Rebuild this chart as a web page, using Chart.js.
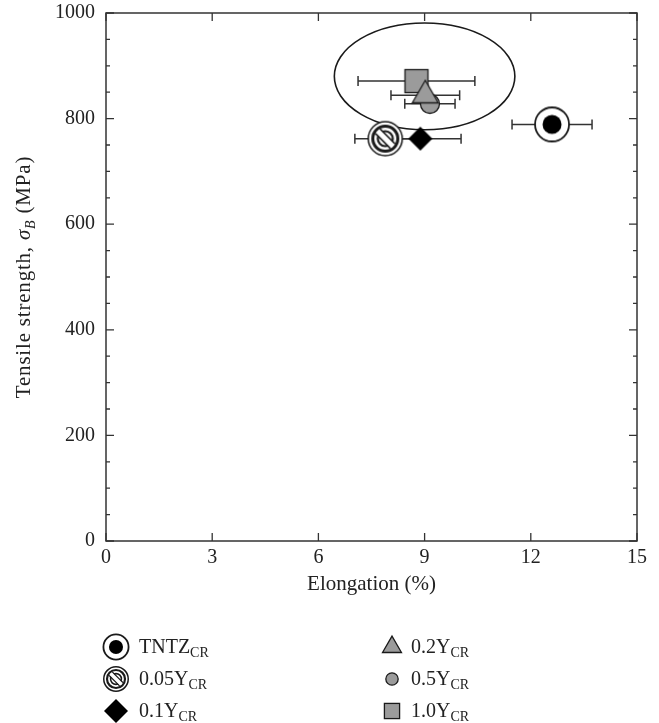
<!DOCTYPE html>
<html>
<head>
<meta charset="utf-8">
<script src="https://cdn.jsdelivr.net/npm/chart.js@4.4.0/dist/chart.umd.min.js"></script>
<style>
html, body { margin: 0; padding: 0; background: #fff; overflow: hidden; }
#myChart { display: block; margin-top: -10px; }
</style>
</head>
<body>
<canvas id="myChart" width="659" height="733"></canvas>
<script>
// tensile strength vs elongation
const groups = ['TNTZ', '0.05Y', '0.1Y', '0.2Y', '0.5Y', '1.0Y'];
const markerKinds = ['tntz', 'hatch', 'diamond', 'triangle', 'circle', 'square'];
const elongation = [12.6, 7.89, 8.88, 9.02, 9.15, 8.77];
const elongationErr = [1.13, 0.86, 1.15, 0.97, 0.71, 1.65];
const strength = [789, 762, 762, 844, 828, 871];
const drawOrder = [5, 4, 3, 0, 1, 2];

const xTicks = [0, 3, 6, 9, 12, 15];
const yTicks = [0, 200, 400, 600, 800, 1000];
const yMinorStep = 50;

// ellipse grouping the Y-added alloys
const ellipseCenter = [9.0, 880];
const ellipseRadius = [2.55, 101];

const serif = "'Liberation Serif', 'DejaVu Serif', serif";
const ink = '#1a1a1a';
const grey = '#9b9b9b';

function circle(ctx, x, y, r) {
    ctx.beginPath();
    ctx.arc(x, y, r, 0, Math.PI * 2);
}

function drawMarker(ctx, kind, x, y, k) {
    ctx.save();
    ctx.strokeStyle = ink;
    ctx.lineWidth = 1.3;
    if (kind === 'tntz') {
        circle(ctx, x, y, 17 * k);
        ctx.fillStyle = '#fff';
        ctx.fill();
        ctx.lineWidth = 1.8;
        ctx.stroke();
        circle(ctx, x, y, 9.5 * k);
        ctx.fillStyle = '#000';
        ctx.fill();
    } else if (kind === 'hatch') {
        circle(ctx, x, y, 17 * k);
        ctx.fillStyle = '#fff';
        ctx.fill();
        ctx.lineWidth = 1.5;
        ctx.stroke();
        circle(ctx, x, y, 12.5 * k);
        ctx.lineWidth = 3 * k;
        ctx.stroke();
        circle(ctx, x, y, 7.5 * k);
        ctx.lineWidth = 2.2 * k;
        ctx.stroke();
        ctx.save();
        circle(ctx, x, y, 11 * k);
        ctx.clip();
        const d = 11 * k;
        ctx.strokeStyle = '#fff';
        ctx.lineWidth = 5.5 * k;
        ctx.beginPath();
        ctx.moveTo(x - d, y - d);
        ctx.lineTo(x + d, y + d);
        ctx.stroke();
        ctx.strokeStyle = ink;
        ctx.lineWidth = 1.6 * k;
        const o = 3.3 * k / Math.SQRT2;
        [-1, 1].forEach(function (s) {
            ctx.beginPath();
            ctx.moveTo(x - d + s * o, y - d - s * o);
            ctx.lineTo(x + d + s * o, y + d - s * o);
            ctx.stroke();
        });
        ctx.restore();
    } else if (kind === 'diamond') {
        const r = 12 * k;
        ctx.beginPath();
        ctx.moveTo(x - r, y);
        ctx.lineTo(x, y - r);
        ctx.lineTo(x + r, y);
        ctx.lineTo(x, y + r);
        ctx.closePath();
        ctx.fillStyle = '#000';
        ctx.fill();
    } else if (kind === 'triangle') {
        const r = 15 * k;
        ctx.beginPath();
        for (let i = 0; i < 3; i++) {
            const a = -Math.PI / 2 + i * 2 * Math.PI / 3;
            const px = x + Math.cos(a) * r, py = y + Math.sin(a) * r;
            if (i === 0) ctx.moveTo(px, py); else ctx.lineTo(px, py);
        }
        ctx.closePath();
        ctx.fillStyle = grey;
        ctx.fill();
        ctx.stroke();
    } else if (kind === 'circle') {
        circle(ctx, x, y, 9.5 * k);
        ctx.fillStyle = grey;
        ctx.fill();
        ctx.stroke();
    } else if (kind === 'square') {
        const h = 11.5 * k;
        ctx.fillStyle = grey;
        ctx.fillRect(x - h, y - h, 2 * h, 2 * h);
        ctx.strokeRect(x - h, y - h, 2 * h, 2 * h);
    }
    ctx.restore();
}

function markerCanvas(kind) {
    const c = document.createElement('canvas');
    c.width = 40;
    c.height = 40;
    drawMarker(c.getContext('2d'), kind, 20, 20, 1);
    return c;
}

// error bars + ellipse under the markers
const underlay = {
    id: 'underlay',
    beforeDatasetsDraw(chart) {
        const ctx = chart.ctx;
        const xs = chart.scales.x, ys = chart.scales.y;
        ctx.save();
        ctx.strokeStyle = '#333';
        ctx.lineWidth = 1.5;
        groups.forEach(function (g, i) {
            const x0 = xs.getPixelForValue(elongation[i] - elongationErr[i]);
            const x1 = xs.getPixelForValue(elongation[i] + elongationErr[i]);
            const y = ys.getPixelForValue(strength[i]);
            ctx.beginPath();
            ctx.moveTo(x0, y); ctx.lineTo(x1, y);
            ctx.moveTo(x0, y - 5); ctx.lineTo(x0, y + 5);
            ctx.moveTo(x1, y - 5); ctx.lineTo(x1, y + 5);
            ctx.stroke();
        });
        const cx = xs.getPixelForValue(ellipseCenter[0]);
        const cy = ys.getPixelForValue(ellipseCenter[1]);
        const rx = Math.abs(xs.getPixelForValue(ellipseCenter[0] + ellipseRadius[0]) - cx);
        const ry = Math.abs(ys.getPixelForValue(ellipseCenter[1] + ellipseRadius[1]) - cy);
        ctx.strokeStyle = ink;
        ctx.lineWidth = 1.6;
        ctx.beginPath();
        ctx.ellipse(cx, cy, rx, ry, 0, 0, Math.PI * 2);
        ctx.stroke();
        ctx.restore();
    }
};

// frame, inward ticks, y title with subscript, legend
const overlay = {
    id: 'overlay',
    afterDraw(chart) {
        const ctx = chart.ctx;
        const a = chart.chartArea;
        const xs = chart.scales.x, ys = chart.scales.y;
        ctx.save();
        ctx.strokeStyle = '#333';
        ctx.lineWidth = 1.5;
        ctx.strokeRect(a.left, a.top, a.right - a.left, a.bottom - a.top);

        ctx.lineWidth = 1.3;
        ctx.beginPath();
        xTicks.forEach(function (v) {
            const px = xs.getPixelForValue(v);
            ctx.moveTo(px, a.bottom); ctx.lineTo(px, a.bottom - 8);
            ctx.moveTo(px, a.top); ctx.lineTo(px, a.top + 8);
        });
        for (let v = 0; v <= 1000; v += yMinorStep) {
            const py = ys.getPixelForValue(v);
            const len = yTicks.includes(v) ? 8 : 4;
            ctx.moveTo(a.left, py); ctx.lineTo(a.left + len, py);
            ctx.moveTo(a.right, py); ctx.lineTo(a.right - len, py);
        }
        ctx.stroke();

        // y axis title
        ctx.fillStyle = '#222';
        ctx.textBaseline = 'alphabetic';
        ctx.letterSpacing = '0.8px';
        const parts = [
            ['Tensile strength, ', '21px ' + serif, 0],
            ['\u03c3', 'italic 21px ' + serif, 0],
            ['B', 'italic 14px ' + serif, 5],
            [' (MPa)', '21px ' + serif, 0]
        ];
        let total = 0;
        parts.forEach(function (p) { ctx.font = p[1]; total += ctx.measureText(p[0]).width; });
        ctx.translate(30, (a.top + a.bottom) / 2);
        ctx.rotate(-Math.PI / 2);
        let tx = -total / 2;
        parts.forEach(function (p) {
            ctx.font = p[1];
            ctx.fillText(p[0], tx, p[2]);
            tx += ctx.measureText(p[0]).width;
        });
        ctx.restore();

        // legend (canvas is shifted up 10px by css)
        const legendScale = [0.74, 0.72, 1.0, 0.73, 0.65, 0.66];
        const colX = [116, 392];
        const rowY = [657, 689, 721];
        ctx.save();
        ctx.fillStyle = '#222';
        groups.forEach(function (g, i) {
            const col = Math.floor(i / 3), row = i % 3;
            const mx = colX[col], my = rowY[row];
            drawMarker(ctx, markerKinds[i], mx, my, legendScale[i]);
            let tx = mx + (col === 0 ? 23 : 19);
            ctx.font = '20px ' + serif;
            ctx.fillText(g, tx, my + 6);
            tx += ctx.measureText(g).width;
            ctx.font = '14px ' + serif;
            ctx.fillText('CR', tx, my + 10);
        });
        ctx.restore();
    }
};

const datasets = groups.map(function (g, i) {
    return {
        label: g + 'CR',
        data: [{ x: elongation[i], y: strength[i] }],
        pointStyle: markerCanvas(markerKinds[i]),
        pointRadius: 17,
        pointHoverRadius: 17,
        order: drawOrder[i]
    };
});

const tickFont = { family: serif, size: 20 };

const config = {
    type: 'scatter',
    data: { datasets: datasets },
    plugins: [underlay, overlay],
    options: {
        responsive: false,
        devicePixelRatio: 1,
        animation: false,
        layout: {
            autoPadding: false,
            padding: { left: 0, right: 22, top: 2, bottom: 118 }
        },
        plugins: {
            legend: { display: false },
            tooltip: { enabled: false }
        },
        scales: {
            x: {
                type: 'linear',
                min: 0,
                max: 15,
                afterFit: function (s) { s.height = 64; },
                afterBuildTicks: function (s) { s.ticks = xTicks.map(function (v) { return { value: v }; }); },
                ticks: { font: tickFont, color: '#222', padding: 5, maxRotation: 0 },
                grid: { display: false, drawTicks: false },
                border: { display: false },
                title: {
                    display: true,
                    text: 'Elongation (%)',
                    font: { family: serif, size: 21 },
                    color: '#222',
                    padding: { top: 0, bottom: 8 }
                }
            },
            y: {
                type: 'linear',
                min: 0,
                max: 1000,
                afterFit: function (s) { s.width = 106; },
                afterBuildTicks: function (s) { s.ticks = yTicks.map(function (v) { return { value: v }; }); },
                ticks: {
                    font: tickFont,
                    color: '#222',
                    padding: 11,
                    callback: function (v) { return String(v); }
                },
                grid: { display: false, drawTicks: false },
                border: { display: false }
            }
        }
    }
};

const myChart = new Chart(document.getElementById('myChart'), config);
</script>
</body>
</html>
